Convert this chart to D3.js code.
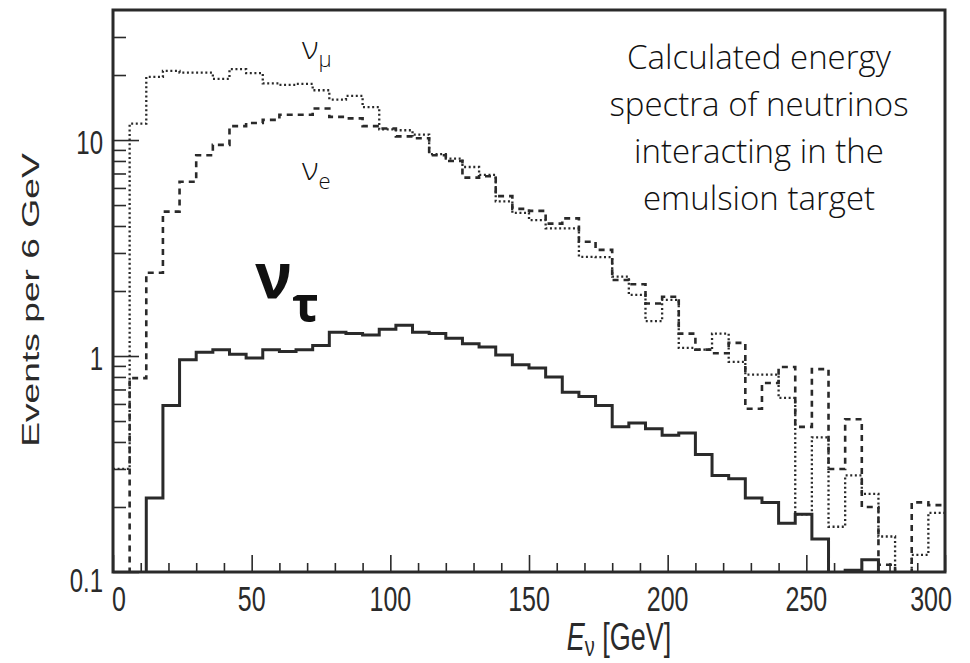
<!DOCTYPE html>
<html>
<head>
<meta charset="utf-8">
<script src="https://cdn.jsdelivr.net/npm/d3@7"></script>
<style>
  html, body { margin: 0; padding: 0; background: #fff; }
  svg { display: block; }
</style>
</head>
<body>
<svg id="chart" width="970" height="663"></svg>
<script>
// Lower edges of the 6 GeV energy bins
const binLow = [0, 6, 12, 18, 24, 30, 36, 42, 48, 54, 60, 66, 72, 78, 84, 90, 96, 102, 108, 114,
  120, 126, 132, 138, 144, 150, 156, 162, 168, 174, 180, 186, 192, 198, 204, 210, 216, 222, 228, 234,
  240, 246, 252, 258, 264, 270, 276, 282, 288, 294];
const binWidth = 6;

// Events per bin (0 = empty bin)
const nuMu = [0.30, 11.9, 19.6, 20.9, 20.5, 20.5, 19.2, 21.3, 20.4, 18.3,
  18.0, 18.2, 17.0, 15.4, 16.0, 14.2, 11.2, 11.1, 10.6, 8.6,
  8.2, 7.5, 6.9, 5.2, 4.6, 4.26, 3.9, 3.9, 2.88, 2.87,
  2.33, 1.92, 1.45, 1.82, 1.09, 1.07, 1.27, 0.94, 0.82, 0.82,
  0.64, 0.185, 0.42, 0.162, 0.28, 0.23, 0.146, 0, 0.12, 0.188];
const nuE = [0, 0.79, 2.43, 4.66, 6.41, 8.5, 9.5, 11.6, 12.0, 12.4,
  13.1, 13.1, 14.0, 12.8, 12.6, 11.6, 11.3, 10.4, 10.2, 8.5,
  8.0, 6.7, 6.8, 5.5, 4.8, 4.7, 4.1, 4.34, 3.38, 3.1,
  2.25, 2.15, 1.75, 1.88, 1.27, 1.07, 1.03, 1.15, 0.57, 0.75,
  0.89, 0.47, 0.87, 0.30, 0.51, 0.20, 0.108, 0, 0.21, 0.204];
const nuTau = [0, 0, 0.22, 0.59, 0.96, 1.04, 1.07, 1.02, 0.98, 1.07,
  1.05, 1.07, 1.12, 1.29, 1.27, 1.25, 1.33, 1.39, 1.29, 1.27,
  1.21, 1.14, 1.10, 1.01, 0.91, 0.88, 0.80, 0.68, 0.65, 0.59,
  0.47, 0.49, 0.46, 0.43, 0.44, 0.35, 0.28, 0.27, 0.22, 0.21,
  0.168, 0.185, 0.142, 0, 0.102, 0.114, 0, 0, 0, 0];

// Axis ticks and labels
const xMajor = [0, 50, 100, 150, 200, 250, 300];
const xMinor = [10, 20, 30, 40, 60, 70, 80, 90, 110, 120, 130, 140, 160, 170, 180, 190,
  210, 220, 230, 240, 260, 270, 280, 290];
const yMajor = [0.1, 1, 10];
const yMajorLabels = ["0.1", "1", "10"];
const yMinor = [0.2, 0.3, 0.4, 0.5, 0.6, 0.7, 0.8, 0.9, 2, 3, 4, 5, 6, 7, 8, 9, 20, 30];

const plot = { left: 113, right: 945, top: 10, bottom: 572 };
const ink = "#2a2a2a";
const tickFont = "'Liberation Sans', Arial, Helvetica, sans-serif";
const noteFont = "'Open Sans', 'Noto Sans', sans-serif";
const stretch = 1.42; // tall, narrow axis lettering

const svg = d3.select("#chart");

const x = d3.scaleLinear().domain([0, 300]).range([plot.left, plot.right]);
const y = d3.scaleLog().domain([0.1, 40]).range([plot.bottom, plot.top]);

svg.append("defs").append("clipPath").attr("id", "plot-clip")
  .append("rect")
  .attr("x", plot.left).attr("y", plot.top)
  .attr("width", plot.right - plot.left).attr("height", plot.bottom - plot.top);

// Histogram outline: one step per bin, empty bins fall below the frame
function steps(values) {
  const pts = values.map((v, i) => [binLow[i], v]);
  pts.push([binLow[binLow.length - 1] + binWidth, values[values.length - 1]]);
  return pts;
}
const stepLine = d3.line()
  .x(d => x(d[0]))
  .y(d => y(Math.max(d[1], 0.01)))
  .curve(d3.curveStepAfter);

const histo = svg.append("g").attr("clip-path", "url(#plot-clip)");

histo.append("path")
  .attr("d", stepLine(steps(nuMu)))
  .attr("fill", "none").attr("stroke", ink)
  .attr("stroke-width", 2.3).attr("stroke-dasharray", "2,2.6");

histo.append("path")
  .attr("d", stepLine(steps(nuE)))
  .attr("fill", "none").attr("stroke", ink)
  .attr("stroke-width", 2.6).attr("stroke-dasharray", "6,5");

histo.append("path")
  .attr("d", stepLine(steps(nuTau)))
  .attr("fill", "none").attr("stroke", ink)
  .attr("stroke-width", 3);

// Ticks pointing into the frame
const xAxisMajor = d3.axisBottom(x).tickValues(xMajor).tickSize(-17).tickFormat("");
const xAxisMinor = d3.axisBottom(x).tickValues(xMinor).tickSize(-9).tickFormat("");
const yAxisMajor = d3.axisLeft(y).tickValues(yMajor).tickSize(-26).tickFormat("");
const yAxisMinor = d3.axisLeft(y).tickValues(yMinor).tickSize(-13).tickFormat("");

[[xAxisMajor, `translate(0,${plot.bottom})`], [xAxisMinor, `translate(0,${plot.bottom})`],
 [yAxisMajor, `translate(${plot.left},0)`], [yAxisMinor, `translate(${plot.left},0)`]]
  .forEach(([ax, tr]) => {
    const g = svg.append("g").attr("transform", tr).call(ax);
    g.select(".domain").remove();
    g.selectAll("line").attr("stroke", ink).attr("stroke-width", 1.6);
  });

// Frame
svg.append("rect")
  .attr("x", plot.left).attr("y", plot.top)
  .attr("width", plot.right - plot.left).attr("height", plot.bottom - plot.top)
  .attr("fill", "none").attr("stroke", ink).attr("stroke-width", 3);

// X tick labels
const xLabelShift = { 0: 6, 300: -14 };
svg.append("g").selectAll("g")
  .data(xMajor).join("g")
  .attr("transform", d => `translate(${x(d) + (xLabelShift[d] || 0)},611) scale(1,${stretch})`)
  .append("text")
  .attr("text-anchor", "middle")
  .attr("font-family", tickFont).attr("font-size", 25).attr("fill", ink)
  .text(d => d);

// Y tick labels
const yLabelShift = { 0.1: 6 };
svg.append("g").selectAll("g")
  .data(yMajor).join("g")
  .attr("transform", d => `translate(103,${y(d) + 14 + (yLabelShift[d] || 0)}) scale(1,${stretch})`)
  .append("text")
  .attr("text-anchor", "end")
  .attr("font-family", tickFont).attr("font-size", 24).attr("fill", ink)
  .text((d, i) => yMajorLabels[i]);

// Y axis title
svg.append("g")
  .attr("transform", `translate(39,${(plot.top + plot.bottom) / 2 + 9}) rotate(-90) scale(1.55,1)`)
  .append("text")
  .attr("text-anchor", "middle")
  .attr("font-family", tickFont).attr("font-size", 24).attr("fill", ink)
  .text("Events per 6 GeV");

// X axis title: E_ν [GeV]
const xTitle = svg.append("g")
  .attr("transform", `translate(619,650) scale(1,${stretch})`)
  .append("text")
  .attr("text-anchor", "middle")
  .attr("font-family", tickFont).attr("font-size", 27).attr("fill", ink);
xTitle.append("tspan").attr("font-style", "italic").text("E");
xTitle.append("tspan").attr("font-size", 20).attr("dy", 4).text("ν");
xTitle.append("tspan").attr("dy", -4).text("  [GeV]");

// Curve names
function greek(xPos, yPos, main, sub, size, subSize, weight, subDy) {
  const t = svg.append("text")
    .attr("x", xPos).attr("y", yPos)
    .attr("font-family", noteFont).attr("font-weight", weight)
    .attr("font-size", size).attr("fill", "#111");
  t.append("tspan").text(main);
  t.append("tspan").attr("font-size", subSize).attr("dy", subDy).text(sub);
}
greek(302, 59, "ν", "μ", 32, 22, 300, 8);
greek(302, 180, "ν", "e", 32, 22, 300, 9);
greek(255, 298, "ν", "τ", 62, 50, 700, 24);

// Annotation
const note = ["Calculated energy", "spectra of neutrinos", "interacting in the", "emulsion target"];
svg.append("g").selectAll("text")
  .data(note).join("text")
  .attr("x", 759).attr("y", (d, i) => 69 + i * 47)
  .attr("text-anchor", "middle")
  .attr("font-family", noteFont).attr("font-weight", 300)
  .attr("font-size", 33).attr("fill", "#111")
  .text(d => d);
</script>
</body>
</html>
